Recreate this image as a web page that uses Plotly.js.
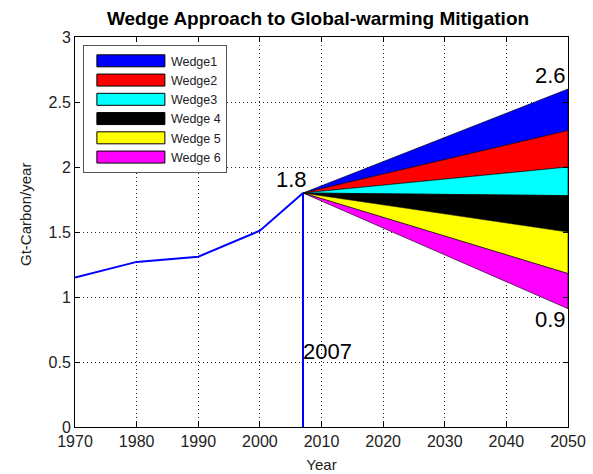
<!DOCTYPE html>
<html><head><meta charset="utf-8">
<script src="https://cdn.plot.ly/plotly-3.0.1.min.js"></script>
<style>html,body{margin:0;padding:0;background:#fff;}#chart{width:593px;height:474px;}</style>
</head><body><div id="chart"></div>
<script>
const histYears = [1970, 1980, 1990, 2000, 2007];
const histValues = [1.15, 1.27, 1.31, 1.51, 1.8];
const markerYear = 2007;
const startValue = 1.8;
const endYear = 2050;
const wedgeNames = ['Wedge1', 'Wedge2', 'Wedge3', 'Wedge 4', 'Wedge 5', 'Wedge 6'];
const wedgeUpper = [2.6, 2.28, 2.0, 1.78, 1.5, 1.18];
const wedgeLower = [2.28, 2.0, 1.78, 1.5, 1.18, 0.91];
const wedgeColors = ['#0000ff', '#ff0000', '#00ffff', '#000000', '#ffff00', '#ff00ff'];

const traces = [];
wedgeNames.forEach((n, i) => {
  traces.push({
    x: [markerYear, endYear, endYear, markerYear],
    y: [startValue, wedgeUpper[i], wedgeLower[i], startValue],
    fill: 'toself', fillcolor: wedgeColors[i], mode: 'lines',
    line: {color: '#000', width: 0.6}, name: n, hoverinfo: 'skip'
  });
});
traces.push({x: histYears, y: histValues, mode: 'lines', line: {color: '#0000ff', width: 2}, showlegend: false});
traces.push({x: [markerYear, markerYear], y: [0, startValue], mode: 'lines', line: {color: '#0000ff', width: 2}, showlegend: false});

const fam = 'Liberation Sans, Arial, sans-serif';
const f = (s, c) => ({family: fam, size: s, color: c || '#000'});
const axisCommon = {
  showgrid: true, gridcolor: '#222', griddash: '1px,3px', gridwidth: 1,
  zeroline: false, showline: true, linecolor: '#000', linewidth: 1, mirror: 'ticks',
  ticks: 'inside', ticklen: 5, tickcolor: '#000', tickfont: f(16, '#222')
};
const layout = {
  width: 593, height: 474,
  margin: {l: 75, r: 25, t: 37, b: 47},
  paper_bgcolor: '#fff', plot_bgcolor: '#fff',
  title: {text: '<b>Wedge Approach to Global-warming Mitigation</b>', font: f(19), x: 318 / 593, xanchor: 'center', y: 1 - 18 / 474, yanchor: 'middle'},
  xaxis: Object.assign({range: [1970, 2050], dtick: 10, tick0: 1970,
    title: {text: 'Year', font: f(15, '#222'), standoff: 10}}, axisCommon),
  yaxis: Object.assign({range: [0, 3], dtick: 0.5, tick0: 0}, axisCommon),
  legend: {x: 0.016, y: 0.979, xanchor: 'left', yanchor: 'top', bgcolor: '#fff', bordercolor: '#555', borderwidth: 1,
    font: f(12.5, '#222'), itemwidth: 77, tracegroupgap: 0, traceorder: 'normal', entrywidth: 150},
  showlegend: true,
  annotations: [
    {x: endYear, y: wedgeUpper[0], text: '2.6', showarrow: false, xanchor: 'right', yanchor: 'middle', font: f(22), xshift: 0, yshift: 14},
    {x: endYear, y: wedgeLower[5], text: '0.9', showarrow: false, xanchor: 'right', yanchor: 'middle', font: f(22), xshift: 0, yshift: -11},
    {x: markerYear, y: startValue, text: '1.8', showarrow: false, xanchor: 'right', yanchor: 'middle', font: f(22), xshift: 6, yshift: 14},
    {x: markerYear, y: 0.5, text: '2007', showarrow: false, xanchor: 'left', yanchor: 'middle', font: f(22), xshift: -2, yshift: 11},
    {xref: 'paper', yref: 'paper', x: -50 / 493, y: (427 - 215) / 390, text: 'Gt-Carbon/year', textangle: -90, showarrow: false,
      xanchor: 'center', yanchor: 'middle', font: f(15, '#222')}
  ]
};
Plotly.newPlot('chart', traces, layout, {displayModeBar: false, staticPlot: true}).then(gd => {
  gd.querySelectorAll('.legendfill path').forEach(p => {
    p.setAttribute('d', 'M13,-6h68v12h-68z');
    p.style.stroke = '#000';
    p.style.strokeWidth = '1px';
  });
  gd.querySelectorAll('.legendlines path').forEach(p => { p.style.display = 'none'; });
});
</script></body></html>
